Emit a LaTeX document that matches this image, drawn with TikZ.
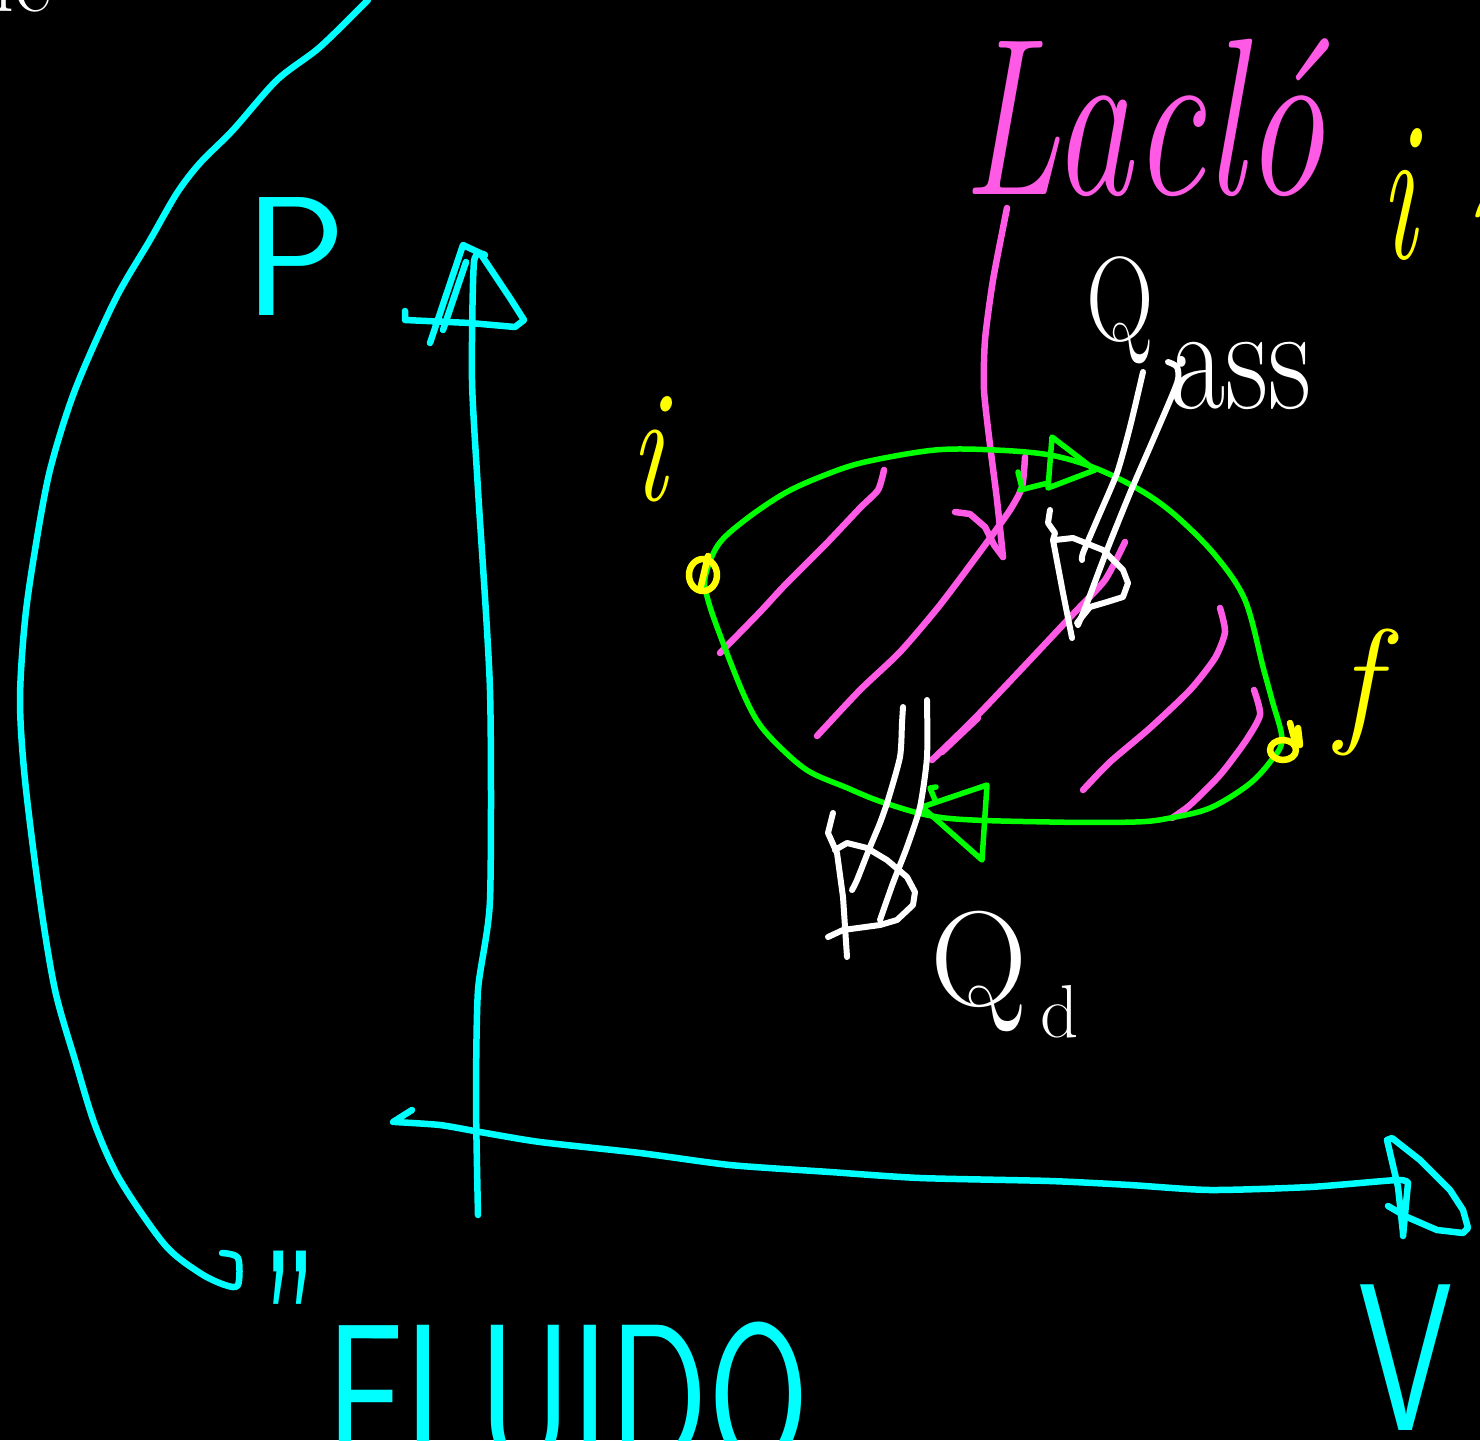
\documentclass[tikz,border=0pt]{standalone}
\usepackage{fontspec}
\definecolor{cyanC}{RGB}{0,255,255}
\definecolor{greenC}{RGB}{0,255,0}
\definecolor{magC}{RGB}{255,90,230}
\definecolor{yelC}{RGB}{255,255,0}
\begin{document}
\begin{tikzpicture}[x=1pt,y=-1pt,line cap=round,line join=round,
  pen/.style={line width=6.5pt},
  cy/.style={pen,draw=cyanC},
  gr/.style={line width=5.5pt,draw=greenC},
  mg/.style={pen,draw=magC},
  wh/.style={line width=6pt,draw=white},
  yl/.style={pen,draw=yelC},
  lbl/.style={inner sep=0pt,anchor=base west}]
\fill[black] (0,0) rectangle (1480,1440);
\useasboundingbox (0,0) rectangle (1480,1440);
\clip (0,0) rectangle (1480,1440);

% ---------- cyan: big bracket arc ----------
\coordinate (arcTop) at (368,0);
\coordinate (arcEnd) at (222,1253);
\draw[cy] plot[smooth,tension=0.5] coordinates {(arcTop) (320,47) (277,80) (233,130) (200,163) (177,193) (150,240) (115,300) (75,390) (50,470) (35,550) (25,620) (20,700) (25,780) (40,900) (55,990) (75,1060) (95,1125) (120,1180) (165,1245) (200,1273) (225,1285) (238,1285) (238,1258) (arcEnd)};

% ---------- cyan axes ----------
\coordinate (yBot) at (478,1215);
\coordinate (yTop) at (474,262);
\draw[cy] plot[smooth,tension=0.4] coordinates {(yBot) (476,1100) (478,990) (490,900) (490,690) (478,490) (472,380) (yTop) (485,255)};
\draw[cy] (430,343) -- (463,245) -- (480,253) -- (510,298) -- (524,320) -- (515,327) -- (470,323) -- (405,320) -- (405,311);
\draw[cy] (443,330) -- (466,262);

\coordinate (xLeft) at (395,1122);
\coordinate (xRight) at (1408,1183);
\draw[cy] (393,1122) -- (412,1110);
\draw[cy] plot[smooth,tension=0.4] coordinates {(xLeft) (440,1125) (480,1132) (540,1142) (640,1153) (730,1165) (830,1172) (920,1178) (1050,1181) (1130,1185) (1210,1190) (1310,1187) (1397,1180) (xRight)};
\draw[cy] (xRight) -- (1403,1236);
\draw[cy] (1387,1140) -- (1398,1187) -- (1403,1233);
\draw[cy] (1387,1140) -- (1392,1138) -- (1420,1160) -- (1450,1190) -- (1463,1210) -- (1468,1228) -- (1463,1233) -- (1437,1230) -- (1407,1217) -- (1388,1206);

% ---------- cyan labels ----------
\node[lbl,text=cyanC] (labP) at (244,315) {\sffamily\fontsize{170}{170}\selectfont P};
\node[lbl,text=cyanC] (labV) at (1358,1430) {\sffamily\fontsize{210}{210}\selectfont\scalebox{0.72}[1]{V}};
\node[lbl,text=cyanC] (labQuote) at (262,1431) {\sffamily\fontsize{200}{200}\selectfont\scalebox{0.62}[1.3]{”}};
\node[lbl,text=cyanC] (labFluido) at (326,1467) {\sffamily\fontsize{205}{205}\selectfont\scalebox{0.71}[1]{FLUIDO}};

% ---------- magenta hatching ----------
\draw[mg] plot[smooth,tension=0.4] coordinates {(720,653) (760,612) (785,585) (825,545) (860,508) (878,490) (884,470)};
\draw[mg] plot[smooth,tension=0.4] coordinates {(817,736) (860,690) (900,652) (940,605) (985,545) (1010,510) (1022,487) (1025,457)};
\draw[mg] plot[smooth,tension=0.4] coordinates {(932,760) (975,718) (1030,660) (1075,612) (1105,580) (1125,542)};
\draw[mg] (942,752) -- (978,718);
\draw[mg] plot[smooth,tension=0.4] coordinates {(1083,790) (1110,762) (1150,728) (1190,690) (1215,658) (1225,632) (1220,608)};
\draw[mg] plot[smooth,tension=0.4] coordinates {(1172,818) (1190,805) (1220,775) (1245,742) (1260,715) (1254,690)};

% ---------- magenta label + arrow ----------
\node[lbl,text=magC] (labLav) at (962,194) {\itshape\fontsize{160}{160}\selectfont\scalebox{1}[1.4]{Lacló}};
\coordinate (lavStart) at (1007,208);
\coordinate (lavTip) at (1003,557);
\draw[mg] plot[smooth,tension=0.4] coordinates {(lavStart) (993,280) (985,340) (984,390) (990,445) (997,500) (lavTip)};
\draw[mg] (955,512) -- (970,514) -- (985,527) -- (994,545) -- (lavTip);

% ---------- green cycle ----------
\draw[gr] plot[smooth cycle,tension=0.55] coordinates {(705,578) (718,545) (745,520) (785,493) (825,475) (865,462) (935,450) (995,450) (1050,455) (1095,468) (1140,490) (1175,515) (1215,555) (1245,600) (1263,667) (1272,700) (1282,740) (1270,762) (1248,785) (1210,808) (1170,818) (1135,822) (1050,822) (945,818) (885,803) (845,787) (810,772) (785,752) (760,725) (743,693) (720,635) (708,600)};
\draw[gr] (1052,437) -- (1095,470) -- (1048,488) -- cycle;
\draw[gr] (1020,490) -- (1048,483);
\draw[gr] (1018,472) -- (1022,488);
\draw[gr] (922,807) -- (987,785) -- (982,860) -- cycle;
\draw[gr] (935,800) -- (930,788) -- (936,787);

% ---------- yellow points and labels ----------
\draw[yl] (703,575) ellipse [x radius=14,y radius=16];
\draw[yl] (708,556) -- (700,590);
\draw[yl] (1283,750) ellipse [x radius=13,y radius=10];
\draw[yl] (1290,723) -- (1296,745);
\draw[yl] (1298,728) -- (1300,745);
\node[lbl,text=yelC] (labI) at (630,500) {\itshape\fontsize{160}{160}\selectfont\scalebox{0.75}[1]{i}};
\node[lbl,text=yelC] (labF) at (1336,727) {\itshape\fontsize{140}{140}\selectfont f};
\node[lbl,text=yelC] (labI2) at (1380,258) {\itshape\fontsize{200}{200}\selectfont\scalebox{0.6}[1]{i}};
\node[lbl,text=yelC] (labV2) at (1462,262) {\itshape\fontsize{160}{160}\selectfont v};

% ---------- white Q_ass ----------
\node[lbl,text=white] (labQa) at (1086,340) {\fontsize{120}{120}\selectfont\scalebox{0.78}[1]{Q}};
\node[lbl,text=white] (labAss) at (1170,408) {\fontsize{150}{150}\selectfont\scalebox{0.8}[1]{ass}};
\draw[wh] plot[smooth,tension=0.4] coordinates {(1143,372) (1130,427) (1117,473) (1097,520) (1083,553) (1082,560)};
\draw[wh] plot[smooth,tension=0.4] coordinates {(1168,362) (1177,367) (1177,383) (1153,440) (1130,493) (1107,550) (1087,603) (1078,625)};
\draw[wh] (1050,510) -- (1048,523) -- (1055,533) -- (1053,540) -- (1063,593) -- (1072,638);
\draw[wh] (1055,540) -- (1073,538) -- (1103,550) -- (1123,570) -- (1128,583) -- (1123,597) -- (1107,602) -- (1090,607) -- (1077,623);

% ---------- white Q_d ----------
\node[lbl,text=white] (labQc) at (930,1005) {\fontsize{135}{135}\selectfont Q};
\node[lbl,text=white] (labD) at (1040,1037) {\fontsize{75}{75}\selectfont d};
\draw[wh] plot[smooth,tension=0.4] coordinates {(903,707) (902,723) (900,757) (888,800) (880,823) (870,847) (857,880) (852,890)};
\draw[wh] plot[smooth,tension=0.4] coordinates {(927,700) (927,757) (920,807) (907,847) (893,883) (880,920)};
\draw[wh] (833,813) -- (828,833) -- (837,853) -- (843,897) -- (847,957);
\draw[wh] (835,850) -- (847,843) -- (867,848) -- (887,860) -- (907,877) -- (915,892) -- (913,905) -- (897,920) -- (880,925) -- (843,930) -- (828,937);

% ---------- white fragment at top-left ----------
\node[lbl,text=white] (labCorner) at (-8,12) {\fontsize{90}{90}\selectfont ic};
\end{tikzpicture}
\end{document}
